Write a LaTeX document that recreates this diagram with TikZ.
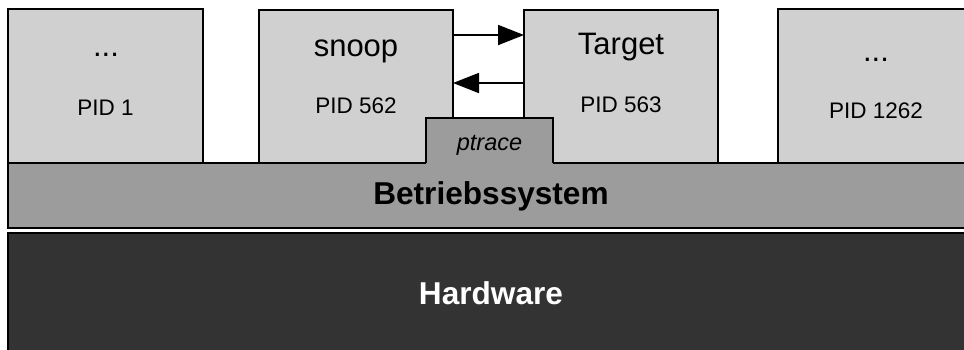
\documentclass[tikz,border=0pt]{standalone}
\usepackage{fontspec}
\setmainfont{Liberation Sans}
\usetikzlibrary{arrows.meta}
\definecolor{procgray}{HTML}{D0D0D0}
\definecolor{osgray}{HTML}{9C9C9C}
\definecolor{hwgray}{HTML}{333333}
\begin{document}
\begin{tikzpicture}[x=1pt,y=-1pt,
  box/.style={line width=1.8pt, anchor=north west, inner sep=0pt, outer sep=0pt},
  procbox/.style={box, draw=black, fill=procgray},
  bigtxt/.style={anchor=base, inner sep=0pt, font=\fontsize{31}{36}\selectfont},
  pidtxt/.style={anchor=base, inner sep=0pt, font=\fontsize{22.5}{27}\selectfont},
  boldtxt/.style={anchor=base, inner sep=0pt, font=\fontsize{31.6}{36}\selectfont\bfseries},
  callarrow/.style={line width=1.8pt, -{Triangle[length=26pt,width=20pt]}}]
\useasboundingbox (0,0) rectangle (964,349);
\clip (0,0) rectangle (964,349);

% user-space processes
\node[procbox, minimum width=195pt, minimum height=154pt] (p1) at (8,9) {};
\node[procbox, minimum width=194pt, minimum height=153pt] (snoop) at (259,10) {};
\node[procbox, minimum width=194pt, minimum height=153pt] (target) at (524,10) {};
\node[procbox, minimum width=196pt, minimum height=154pt] (p1262) at (778,9) {};

% operating system and hardware layers
\node[box, draw=black, fill=osgray, minimum width=966pt, minimum height=65pt] (os) at (8,163) {};
\node[box, draw=black, fill=hwgray, minimum width=966pt, minimum height=120pt] (hw) at (8,233) {};

% ptrace interface, merged into the OS layer
\node[box, fill=osgray, minimum width=127pt, minimum height=46.2pt] (ptrace) at (426,118) {};
\coordinate (ptbl) at (426,163);
\coordinate (ptbr) at (553,163);
\draw[line width=1.8pt] (ptbl) |- (ptrace.north east) -- (ptbr);

% labels
\node[bigtxt] (l1) at (106,56) {...};
\node[pidtxt] (n1) at (105.5,115) {PID 1};
\node[bigtxt] (l2) at (356,56) {snoop};
\node[pidtxt] (n2) at (356,113) {PID 562};
\node[bigtxt] (l3) at (621,54) {Target};
\node[pidtxt] (n3) at (621,112) {PID 563};
\node[bigtxt] (l4) at (876,61) {...};
\node[pidtxt] (n4) at (876,118) {PID 1262};
\node[anchor=base, inner sep=0pt, font=\fontsize{23.5}{28}\selectfont\itshape] (lp) at (489.5,150) {ptrace};
\node[boldtxt] (los) at (491,204) {Betriebssystem};
\node[boldtxt, text=white] (lhw) at (491,304) {Hardware};

% communication between snoop and its target
\coordinate (upper) at (0,35);
\coordinate (lower) at (0,83);
\draw[callarrow] (snoop.east |- upper) -- (target.west |- upper);
\draw[callarrow] (target.west |- lower) -- (snoop.east |- lower);
\end{tikzpicture}
\end{document}
